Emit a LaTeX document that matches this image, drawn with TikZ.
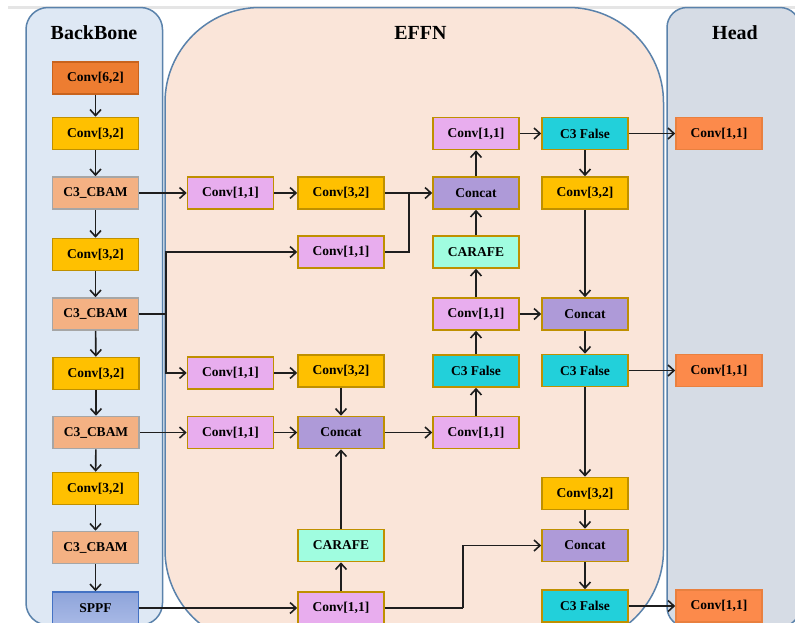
\documentclass[tikz,border=0pt]{standalone}
\usepackage{fontspec}
\setmainfont{Liberation Serif}
\usetikzlibrary{arrows.meta}
\definecolor{bbfill}{HTML}{DEE8F4}
\definecolor{effill}{HTML}{FAE5D9}
\definecolor{hdfill}{HTML}{D6DCE5}
\definecolor{contour}{HTML}{5A82AB}
\definecolor{cOrange}{HTML}{ED7D31}
\definecolor{cOrangeD}{HTML}{C8631D}
\definecolor{cYellow}{HTML}{FFC000}
\definecolor{cGold}{HTML}{BF9000}
\definecolor{cCbam}{HTML}{F4B183}
\definecolor{cPink}{HTML}{E8ADEE}
\definecolor{cConcat}{HTML}{AE9AD8}
\definecolor{cCarafe}{HTML}{A0FDE0}
\definecolor{cCyan}{HTML}{22D0DA}
\definecolor{cHead}{HTML}{FC8A4B}
\definecolor{cHeadD}{HTML}{E9803F}
\definecolor{cSppfT}{HTML}{8EA4DA}
\definecolor{cSppfB}{HTML}{A8B9E6}
\definecolor{cSppfD}{HTML}{4472C4}
\definecolor{lineC}{HTML}{1E1E1E}
\begin{document}
\begin{tikzpicture}[x=1pt,y=-1pt,
  box/.style={draw, line width=1.6pt, minimum width=86pt, minimum height=32pt, inner sep=0pt,
    font=\bfseries\fontsize{13.5}{15}\selectfont},
  conva/.style={box, fill=cOrange, draw=cOrangeD},
  convb/.style={box, fill=cYellow, draw=cGold},
  cbam/.style={box, fill=cCbam, draw=gray!70},
  convc/.style={box, fill=cPink, draw=cGold},
  concat/.style={box, fill=cConcat, draw=cGold},
  carafe/.style={box, fill=cCarafe, draw=cGold},
  cfalse/.style={box, fill=cCyan, draw=cGold},
  headconv/.style={box, fill=cHead, draw=cHeadD},
  sppf/.style={box, top color=cSppfT, bottom color=cSppfB, draw=cSppfD},
  container/.style={draw=contour, line width=1.5pt},
  title/.style={font=\bfseries\fontsize{20}{24}\selectfont},
  arr/.style={draw=lineC, line width=1.6pt, -{Straight Barb[length=6pt,width=11pt]}},
  ln/.style={draw=lineC, line width=1.6pt}
]
\useasboundingbox (0,0) rectangle (795,622);
\fill[white] (0,0) rectangle (795,622);
\clip (0,0) rectangle (795,622);
\draw[gray!20, line width=3pt] (8,7) -- (795,7);

% containers
\draw[container, fill=bbfill, rounded corners=22pt] (26,7.5) rectangle (162.5,625);
\draw[container, fill=effill, rounded corners=95pt] (165,7.5) rectangle (663.5,645);
\draw[container, fill=hdfill, rounded corners=20pt] (667,7.5) rectangle (800,627);

\node[title] (tb) at (94,33) {BackBone};
\node[title] (te) at (420.5,33) {EFFN};
\node[title] (th) at (735,33) {Head};

% backbone
\node[conva] (b1) at (95.5,78) {Conv[6,2]};
\node[convb] (b2) at (95.5,133.5) {Conv[3,2]};
\node[cbam] (b3) at (95.5,193) {C3\_CBAM};
\node[convb] (b4) at (95.5,254.5) {Conv[3,2]};
\node[cbam] (b5) at (95.5,314) {C3\_CBAM};
\node[convb] (b6) at (96,373.5) {Conv[3,2]};
\node[cbam] (b7) at (96,432.5) {C3\_CBAM};
\node[convb] (b8) at (95.5,488.5) {Conv[3,2]};
\node[cbam] (b9) at (95.5,547.5) {C3\_CBAM};
\node[sppf] (b10) at (95.5,608) {SPPF};

% column 1
\node[convc] (c1a) at (230.5,193) {Conv[1,1]};
\node[convc] (c1b) at (230.5,373) {Conv[1,1]};
\node[convc] (c1c) at (230.5,432.5) {Conv[1,1]};

% column 2
\node[convb] (c2a) at (341,193) {Conv[3,2]};
\node[convc] (c2b) at (341,252) {Conv[1,1]};
\node[convb] (c2c) at (341,371) {Conv[3,2]};
\node[concat] (c2d) at (341,432.5) {Concat};
\node[carafe] (c2e) at (341,545.5) {CARAFE};
\node[convc] (c2f) at (341,608) {Conv[1,1]};

% column 3
\node[convc] (c3a) at (476,133.5) {Conv[1,1]};
\node[concat] (c3b) at (476,193) {Concat};
\node[carafe] (c3c) at (476,252) {CARAFE};
\node[convc] (c3d) at (476,314) {Conv[1,1]};
\node[cfalse] (c3e) at (476,371) {C3 False};
\node[convc] (c3f) at (476,432.5) {Conv[1,1]};

% column 4
\node[cfalse] (c4a) at (585,133.5) {C3 False};
\node[convb] (c4b) at (585,193) {Conv[3,2]};
\node[concat] (c4c) at (585,314) {Concat};
\node[cfalse] (c4d) at (585,370.5) {C3 False};
\node[convb] (c4e) at (585,493.5) {Conv[3,2]};
\node[concat] (c4f) at (585,545.5) {Concat};
\node[cfalse] (c4g) at (585,606) {C3 False};

% head
\node[headconv] (h1) at (719,133.5) {Conv[1,1]};
\node[headconv] (h2) at (719,370.5) {Conv[1,1]};
\node[headconv] (h3) at (719,606) {Conv[1,1]};

\coordinate (j1) at (166,314);
\coordinate (j2) at (409,193);
\coordinate (j3) at (463,608);

% backbone arrows
\draw[arr] (b1) -- (b2);
\draw[arr] (b2) -- (b3);
\draw[arr] (b3) -- (b4);
\draw[arr] (b4) -- (b5);
\draw[arr] (b5) -- (b6);
\draw[arr] (b6) -- (b7);
\draw[arr] (b7) -- (b8);
\draw[arr] (b8) -- (b9);
\draw[arr] (b9) -- (b10);

% lateral
\draw[arr] (b3) -- (c1a);
\draw[ln] (b5.east) -- (j1);
\draw[arr] (j1) |- (c2b.west);
\draw[arr] (j1) |- (c1b.west);
\draw[arr] (b7) -- (c1c);
\draw[arr] (b10.east) -- (c2f.west);

\draw[arr] (c1a) -- (c2a);
\draw[arr] (c2a) -- (c3b);
\draw[ln] (c2b.east) -| (j2);
\draw[arr] (c1b.east) -- (c2c.west |- c1b.east);
\draw[arr] (c2c) -- (c2d);
\draw[arr] (c1c) -- (c2d);
\draw[arr] (c2d) -- (c3f);
\draw[arr] (c2f) -- (c2e);
\draw[arr] (c2e) -- (c2d);
\draw[ln] (c2f.east) -- (j3);
\draw[arr] (j3) |- (c4f.west);

\draw[arr] (c3f) -- (c3e);
\draw[arr] (c3e) -- (c3d);
\draw[arr] (c3d) -- (c3c);
\draw[arr] (c3c) -- (c3b);
\draw[arr] (c3b) -- (c3a);
\draw[arr] (c3a) -- (c4a);
\draw[arr] (c3d) -- (c4c);

\draw[arr] (c4a) -- (c4b);
\draw[arr] (c4b) -- (c4c);
\draw[arr] (c4c) -- (c4d);
\draw[arr] (c4d) -- (c4e);
\draw[arr] (c4e) -- (c4f);
\draw[arr] (c4f) -- (c4g);

\draw[arr] (c4a) -- (h1);
\draw[arr] (c4d) -- (h2);
\draw[arr] (c4g) -- (h3);
\end{tikzpicture}
\end{document}
